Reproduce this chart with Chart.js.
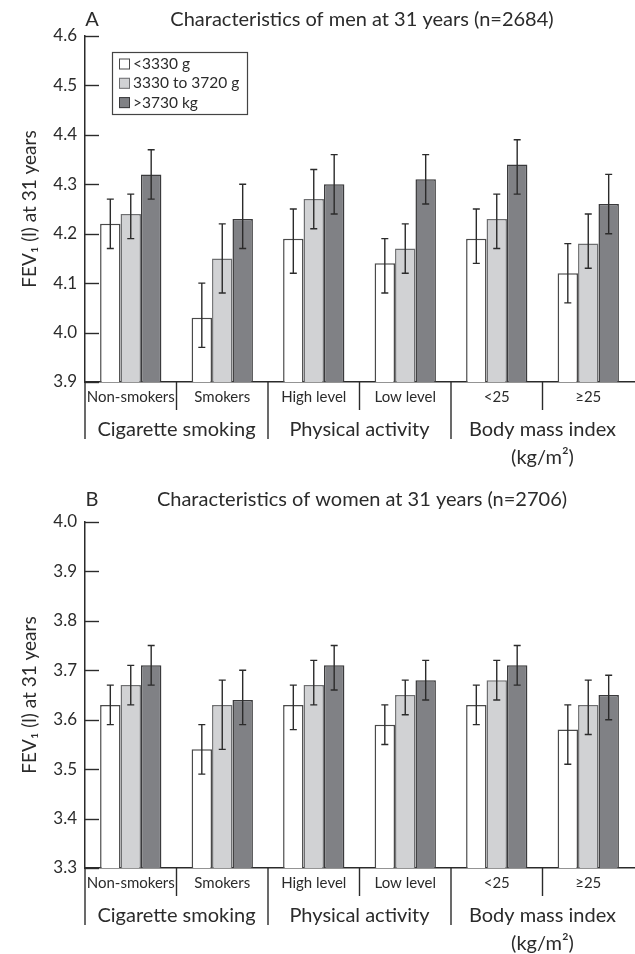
<!DOCTYPE html>
<html><head><meta charset="utf-8">
<script src="https://cdn.jsdelivr.net/npm/chart.js@4.4.0/dist/chart.umd.min.js"></script>
<style>
html,body{margin:0;padding:0;background:#fff;}
#wrap{position:relative;width:635px;height:954px;overflow:hidden;}
.box{position:absolute;left:0;width:635px;height:468px;}
</style></head><body>
<div id="wrap">
<div class="box" style="top:0"><canvas id="c1" width="635" height="468"></canvas></div>
<div class="box" style="top:486px"><canvas id="c2" width="635" height="468"></canvas></div>
</div>
<script>
// ---- data ----
const subCategories = ["Non-smokers", "Smokers", "High level", "Low level", "<25", "≥25"];
const groupLabels = [["Cigarette smoking"], ["Physical activity"], ["Body mass index", "(kg/m²)"]];
const groupSpans = [2, 2, 2];
const seriesNames = ["<3330 g", "3330 to 3720 g", ">3730 kg"];

const menTitle = "Characteristics of men at 31 years (n=2684)";
const menTicks = [3.9, 4.0, 4.1, 4.2, 4.3, 4.4, 4.5, 4.6];
const menLow = [4.22, 4.03, 4.19, 4.14, 4.19, 4.12];
const menMid = [4.24, 4.15, 4.27, 4.17, 4.23, 4.18];
const menHigh = [4.32, 4.23, 4.30, 4.31, 4.34, 4.26];
const menLowCI = [[4.17, 4.27], [3.97, 4.10], [4.12, 4.25], [4.08, 4.19], [4.14, 4.25], [4.06, 4.18]];
const menMidCI = [[4.19, 4.28], [4.08, 4.22], [4.21, 4.33], [4.12, 4.22], [4.17, 4.28], [4.13, 4.24]];
const menHighCI = [[4.27, 4.37], [4.17, 4.30], [4.24, 4.36], [4.26, 4.36], [4.28, 4.39], [4.20, 4.32]];

const womenTitle = "Characteristics of women at 31 years (n=2706)";
const womenTicks = [3.3, 3.4, 3.5, 3.6, 3.7, 3.8, 3.9, 4.0];
const womenLow = [3.63, 3.54, 3.63, 3.59, 3.63, 3.58];
const womenMid = [3.67, 3.63, 3.67, 3.65, 3.68, 3.63];
const womenHigh = [3.71, 3.64, 3.71, 3.68, 3.71, 3.65];
const womenLowCI = [[3.59, 3.67], [3.49, 3.59], [3.58, 3.67], [3.55, 3.63], [3.59, 3.67], [3.51, 3.63]];
const womenMidCI = [[3.63, 3.71], [3.54, 3.68], [3.63, 3.72], [3.61, 3.68], [3.64, 3.72], [3.57, 3.68]];
const womenHighCI = [[3.67, 3.75], [3.59, 3.70], [3.66, 3.75], [3.64, 3.72], [3.67, 3.75], [3.60, 3.69]];

const yTitle = "FEV₁ (l) at 31 years";

// ---- styles ----
const FONT = "Lato, 'Open Sans', sans-serif";
const INK = "#2b2b2b";
const fills = ["#ffffff", "#d1d2d4", "#808185"];
const borders = ["#4a4a4a", "#6e6f71", "#3a3a3c"];

const panelPlugin = {
  id: "panel",
  afterDatasetsDraw(chart) {
    const ctx = chart.ctx;
    const y = chart.scales.y;
    ctx.save();
    ctx.strokeStyle = INK;
    ctx.lineWidth = 1.4;
    chart.data.datasets.forEach((ds, di) => {
      const meta = chart.getDatasetMeta(di);
      meta.data.forEach((el, i) => {
        const ci = ds.ci[i];
        const y1 = y.getPixelForValue(ci[0]);
        const y2 = y.getPixelForValue(ci[1]);
        ctx.beginPath();
        ctx.moveTo(el.x, y1); ctx.lineTo(el.x, y2);
        ctx.moveTo(el.x - 3.5, y1); ctx.lineTo(el.x + 3.5, y1);
        ctx.moveTo(el.x - 3.5, y2); ctx.lineTo(el.x + 3.5, y2);
        ctx.stroke();
      });
    });
    ctx.restore();
  },
  afterDraw(chart, args, opts) {
    const ctx = chart.ctx;
    const area = chart.chartArea;
    const xs = chart.scales.x;
    const ys = chart.scales.y;
    ctx.save();
    ctx.strokeStyle = INK;
    ctx.fillStyle = INK;
    ctx.lineWidth = 1.4;
    // y tick marks pointing inward
    ys.ticks.forEach(t => {
      const py = Math.round(ys.getPixelForValue(t.value)) + 0.5;
      ctx.beginPath();
      ctx.moveTo(area.left, py); ctx.lineTo(area.left + 14, py);
      ctx.stroke();
    });
    // category structure below axis
    const n = subCategories.length;
    const step = (area.right - area.left) / n;
    const b = area.bottom;
    ctx.beginPath();
    ctx.moveTo(area.left, b); ctx.lineTo(area.left, b + 57);
    ctx.stroke();
    let idx = 0;
    groupSpans.forEach((span, g) => {
      const start = idx, end = idx + span;
      for (let k = start + 1; k < end; k++) {
        const px = area.left + k * step;
        ctx.beginPath(); ctx.moveTo(px, b); ctx.lineTo(px, b + 28); ctx.stroke();
      }
      if (end < n) {
        const px = area.left + end * step;
        ctx.beginPath(); ctx.moveTo(px, b); ctx.lineTo(px, b + 57); ctx.stroke();
      }
      const cx = (xs.getPixelForValue(start) + xs.getPixelForValue(end - 1)) / 2;
      ctx.font = "20px " + FONT;
      ctx.textAlign = "center";
      ctx.textBaseline = "middle";
      groupLabels[g].forEach((line, li) => ctx.fillText(line, cx, b + 48 + li * 28));
      idx = end;
    });
    ctx.font = "15px " + FONT;
    ctx.textAlign = "center";
    ctx.textBaseline = "middle";
    subCategories.forEach((s, i) => {
      ctx.fillText(s, xs.getPixelForValue(i), b + 15);
    });
    // titles
    ctx.font = "20px " + FONT;
    ctx.textAlign = "center";
    ctx.fillText(opts.letter, area.left + 7, opts.titleY);
    ctx.fillText(opts.title, 362, opts.titleY);
    // y axis title
    ctx.save();
    ctx.translate(30, (area.top + area.bottom) / 2);
    ctx.rotate(-Math.PI / 2);
    ctx.font = "19px " + FONT;
    ctx.fillText(yTitle, 0, 0);
    ctx.restore();
    // legend
    if (opts.legend) {
      ctx.strokeStyle = "#444";
      ctx.lineWidth = 1.2;
      ctx.strokeRect(112.5, 52.5, 135, 62);
      ctx.font = "15.5px " + FONT;
      ctx.textAlign = "left";
      seriesNames.forEach((name, i) => {
        const ry = 64 + i * 19.3;
        ctx.fillStyle = fills[i];
        ctx.fillRect(119, ry - 5.5, 11, 11);
        ctx.strokeStyle = borders[i];
        ctx.lineWidth = 1;
        ctx.strokeRect(119.5, ry - 5, 10, 10);
        ctx.fillStyle = INK;
        ctx.fillText(name, 133, ry);
      });
    }
    ctx.restore();
  }
};

function makeChart(id, low, mid, high, lowCI, midCI, highCI, ticks, title, letter, titleY, legend) {
  const values = [low, mid, high];
  const cis = [lowCI, midCI, highCI];
  return new Chart(document.getElementById(id), {
    type: "bar",
    data: {
      labels: subCategories,
      datasets: values.map((v, i) => ({
        label: seriesNames[i],
        data: v,
        ci: cis[i],
        backgroundColor: fills[i],
        borderColor: borders[i],
        borderWidth: 1.5,
        categoryPercentage: 0.67,
        barPercentage: 1.0
      }))
    },
    options: {
      responsive: false,
      animation: false,
      devicePixelRatio: 1,
      layout: { padding: { top: 36, right: 1, left: 0, bottom: 0 } },
      plugins: {
        legend: { display: false },
        tooltip: { enabled: false },
        title: { display: false },
        panel: { title, letter, titleY, legend }
      },
      scales: {
        x: {
          grid: { display: false, drawTicks: false },
          border: { display: true, color: INK, width: 1.5 },
          ticks: { display: false },
          afterFit: s => { s.height = 86; }
        },
        y: {
          min: ticks[0],
          max: ticks[ticks.length - 1],
          afterBuildTicks: s => { s.ticks = ticks.map(v => ({ value: v })); },
          ticks: {
            padding: 8,
            color: INK,
            font: { family: FONT, size: 17 },
            callback: v => Number(v).toFixed(1)
          },
          grid: { display: false, drawTicks: false },
          border: { display: true, color: INK, width: 1.5 },
          afterFit: s => { s.width = 85; }
        }
      }
    },
    plugins: [panelPlugin]
  });
}

makeChart("c1", menLow, menMid, menHigh, menLowCI, menMidCI, menHighCI, menTicks, menTitle, "A", 20, true);
makeChart("c2", womenLow, womenMid, womenHigh, womenLowCI, womenMidCI, womenHighCI, womenTicks, womenTitle, "B", 14, false);
</script>
</body></html>
